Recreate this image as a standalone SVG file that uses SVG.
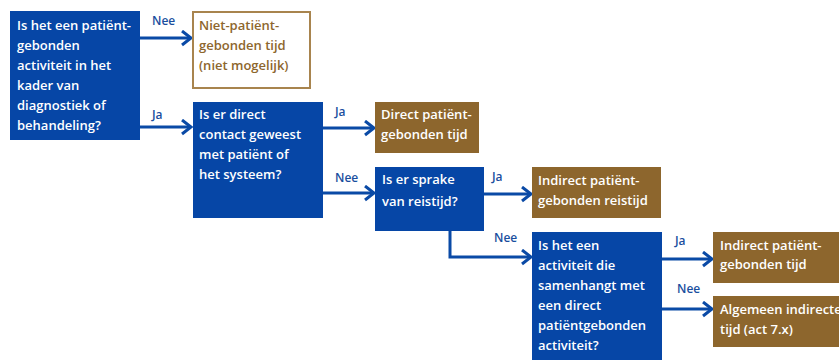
<svg xmlns="http://www.w3.org/2000/svg" width="839" height="360" viewBox="0 0 839 360">
<defs>
<marker id="chev" markerUnits="userSpaceOnUse" markerWidth="14" markerHeight="18" refX="11" refY="8" orient="auto">
<path d="M2,1 L11,8 L2,15" fill="none" stroke="#0a4aa6" stroke-width="3"/>
</marker>
</defs>
<style>
.q{fill:#0646a6}
.r{fill:#8d662d}
.o{fill:#fff;stroke:#a8844e;stroke-width:2}
.t{font-family:"Open Sans","Liberation Sans",sans-serif;font-weight:600;font-size:13px;fill:#fff}
.tb{font-family:"Open Sans","Liberation Sans",sans-serif;font-weight:600;font-size:13px;fill:#8d662d}
.l{font-family:"Open Sans","Liberation Sans",sans-serif;font-weight:600;font-size:12px;fill:#1a4e9e}
.c{fill:none;stroke:#0a4aa6;stroke-width:3;marker-end:url(#chev)}
</style>
<rect width="839" height="360" fill="#fff"/>
<g id="connectors">
<path class="c" d="M140,38 H191"/>
<path class="c" d="M140,127 H191"/>
<path class="c" d="M323,128 H374"/>
<path class="c" d="M323,193 H374"/>
<path class="c" d="M484,194 H531"/>
<path class="c" d="M450,231 V257 H531"/>
<path class="c" d="M662,259 H712"/>
<path class="c" d="M662,309 H712"/>
<text class="l" x="152" y="25">Nee</text>
<text class="l" x="152" y="119">Ja</text>
<text class="l" x="335" y="116">Ja</text>
<text class="l" x="335" y="182">Nee</text>
<text class="l" x="492" y="181">Ja</text>
<text class="l" x="494" y="242">Nee</text>
<text class="l" x="675" y="245">Ja</text>
<text class="l" x="677" y="293">Nee</text>
</g>
<g id="q1">
<rect class="q" x="10" y="11" width="130" height="129"/>
<text class="t" x="17" y="30">Is het een patiënt-</text>
<text class="t" x="17" y="50">gebonden</text>
<text class="t" x="17" y="70">activiteit in het</text>
<text class="t" x="17" y="90">kader van</text>
<text class="t" x="17" y="110">diagnostiek of</text>
<text class="t" x="17" y="130">behandeling?</text>
</g>
<g id="r1">
<rect class="o" x="193" y="12" width="117" height="76"/>
<text class="tb" x="199" y="30">Niet-patiënt-</text>
<text class="tb" x="199" y="50">gebonden tijd</text>
<text class="tb" x="199" y="70">(niet mogelijk)</text>
</g>
<g id="q2">
<rect class="q" x="193" y="102" width="130" height="116"/>
<text class="t" x="199" y="119">Is er direct</text>
<text class="t" x="199" y="139">contact geweest</text>
<text class="t" x="199" y="159">met patiënt of</text>
<text class="t" x="199" y="179">het systeem?</text>
</g>
<g id="r2">
<rect class="r" x="375" y="102" width="104" height="51"/>
<text class="t" x="381" y="119">Direct patiënt-</text>
<text class="t" x="381" y="139">gebonden tijd</text>
</g>
<g id="q3">
<rect class="q" x="375" y="167" width="109" height="64"/>
<text class="t" x="382" y="184">Is er sprake</text>
<text class="t" x="382" y="206">van reistijd?</text>
</g>
<g id="r3">
<rect class="r" x="532" y="167" width="129" height="51"/>
<text class="t" x="538" y="185">Indirect patiënt-</text>
<text class="t" x="538" y="205">gebonden reistijd</text>
</g>
<g id="q4">
<rect class="q" x="532" y="232" width="130" height="130"/>
<text class="t" x="538" y="250">Is het een</text>
<text class="t" x="538" y="270">activiteit die</text>
<text class="t" x="538" y="290">samenhangt met</text>
<text class="t" x="538" y="310">een direct</text>
<text class="t" x="538" y="330">patiëntgebonden</text>
<text class="t" x="538" y="350">activiteit?</text>
</g>
<g id="r4">
<rect class="r" x="713" y="232" width="130" height="51"/>
<text class="t" x="720" y="250">Indirect patiënt-</text>
<text class="t" x="720" y="269">gebonden tijd</text>
</g>
<g id="r5">
<rect class="r" x="713" y="296" width="130" height="51"/>
<text class="t" x="720" y="314">Algemeen indirecte</text>
<text class="t" x="720" y="334">tijd (act 7.x)</text>
</g>
</svg>
